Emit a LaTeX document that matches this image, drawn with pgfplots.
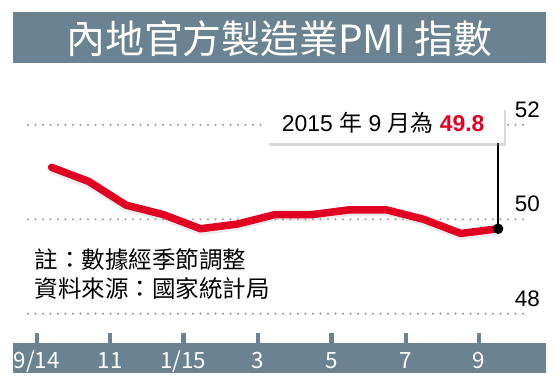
\documentclass[border=0pt]{standalone}
\usepackage{fontspec}
\setmainfont{Liberation Sans}
\newfontfamily\cjk{Noto Sans CJK TC}
\usepackage{pgfplots}
\pgfplotsset{compat=1.18}
\usetikzlibrary{shadows}
\definecolor{barblue}{RGB}{107,131,145}
\definecolor{pmired}{RGB}{226,0,34}
\definecolor{dotgray}{RGB}{160,160,160}
\begin{document}
\begin{tikzpicture}
\begin{axis}[
  at={(13bp,12.7bp)}, anchor=south west,
  scale only axis, width=532.7bp, height=361bp,
  xmin=-1.04, xmax=13.28, ymin=46.737, ymax=54.386,
  axis line style={draw=none},
  major tick length=0pt,
  /pgf/number format/assume math mode=true,
  xtick={-0.4,1.57,3.54,5.54,7.52,9.52,11.49},
  xticklabels={},
  ytick={48,50,52},
  yticklabels={48,50,52},
  yticklabel pos=right,
  yticklabel style={anchor=base east, inner sep=0pt, xshift=-5.7bp, yshift=7.3bp, font=\fontsize{22.5}{24}\selectfont},
  clip=false,
]
% bars
\fill[barblue] (axis cs:-1.04,53.318) rectangle (axis cs:13.28,54.386);
\fill[barblue] (axis cs:-1.04,46.737) rectangle (axis cs:13.28,47.373);
% tick stubs above the bottom bar
\fill[barblue] (axis cs:-0.4,47.36) ++(-2.25bp,0bp) rectangle ++(4.5bp,11.2bp);
\fill[barblue] (axis cs:1.57,47.36) ++(-2.25bp,0bp) rectangle ++(4.5bp,11.2bp);
\fill[barblue] (axis cs:3.54,47.36) ++(-2.25bp,0bp) rectangle ++(4.5bp,11.2bp);
\fill[barblue] (axis cs:5.54,47.36) ++(-2.25bp,0bp) rectangle ++(4.5bp,11.2bp);
\fill[barblue] (axis cs:7.52,47.36) ++(-2.25bp,0bp) rectangle ++(4.5bp,11.2bp);
\fill[barblue] (axis cs:9.52,47.36) ++(-2.25bp,0bp) rectangle ++(4.5bp,11.2bp);
\fill[barblue] (axis cs:11.49,47.36) ++(-2.25bp,0bp) rectangle ++(4.5bp,11.2bp);
% title
\node[anchor=base, inner sep=0pt, text=white, font=\cjk\fontsize{39}{41}\selectfont] at (axis cs:6.12,53.517) {內地官方製造業PMI 指數};
% x labels, same font handling as the title
\node[anchor=base, inner sep=0pt, text=white, font=\cjk\fontsize{22.5}{24}\selectfont] at (axis cs:-0.4,46.843) {9/14};
\node[anchor=base, inner sep=0pt, text=white, font=\cjk\fontsize{22.5}{24}\selectfont] at (axis cs:1.57,46.843) {11};
\node[anchor=base, inner sep=0pt, text=white, font=\cjk\fontsize{22.5}{24}\selectfont] at (axis cs:3.54,46.843) {1/15};
\node[anchor=base, inner sep=0pt, text=white, font=\cjk\fontsize{22.5}{24}\selectfont] at (axis cs:5.54,46.843) {3};
\node[anchor=base, inner sep=0pt, text=white, font=\cjk\fontsize{22.5}{24}\selectfont] at (axis cs:7.52,46.843) {5};
\node[anchor=base, inner sep=0pt, text=white, font=\cjk\fontsize{22.5}{24}\selectfont] at (axis cs:9.52,46.843) {7};
\node[anchor=base, inner sep=0pt, text=white, font=\cjk\fontsize{22.5}{24}\selectfont] at (axis cs:11.49,46.843) {9};
% dotted grid lines
\addplot[dotgray, line width=2.4bp, line cap=round, dash pattern=on 0bp off 7.5bp] coordinates {(-0.637,48) (12.8,48)};
\addplot[dotgray, line width=2.4bp, line cap=round, dash pattern=on 0bp off 7.5bp] coordinates {(-0.637,50) (12.8,50)};
\addplot[dotgray, line width=2.4bp, line cap=round, dash pattern=on 0bp off 7.5bp] coordinates {(-0.637,52) (12.8,52)};
% shadow of line
\addplot[gray!60, line width=8bp, line join=round, line cap=round, yshift=-2.5bp, draw opacity=0.25] coordinates {
(0,51.1) (1,50.8) (2,50.3) (3,50.1) (4,49.8) (5,49.9) (6,50.1) (7,50.1) (8,50.2) (9,50.2) (10,50.0) (11,49.7) (12,49.8)};
% PMI line
\addplot[pmired, line width=7.5bp, line join=round, line cap=round] coordinates {
(0,51.1) (1,50.8) (2,50.3) (3,50.1) (4,49.8) (5,49.9) (6,50.1) (7,50.1) (8,50.2) (9,50.2) (10,50.0) (11,49.7) (12,49.8)};
% pointer line and dot
\addplot[black, line width=1.8bp] coordinates {(12,49.8) (12,51.62)};
\addplot[only marks, mark=*, mark size=5bp, black] coordinates {(12,49.8)};
% annotation box
\fill[white, drop shadow={shadow xshift=2bp, shadow yshift=-3bp, opacity=0.3, fill=gray}] (axis cs:5.788,51.610) rectangle (axis cs:12.172,52.379);
\node[anchor=base west, inner sep=0pt, font=\fontsize{23}{25}\selectfont] at (axis cs:6.185,51.856) {2015 {\cjk 年} 9 {\cjk 月為} \textcolor{pmired}{\bfseries 49.8}};
% notes
\node[anchor=base west, inner sep=0pt, font=\cjk\fontsize{23.6}{25}\selectfont] at (axis cs:-0.46,48.955) {註：數據經季節調整};
\node[anchor=base west, inner sep=0pt, font=\cjk\fontsize{23.6}{25}\selectfont] at (axis cs:-0.46,48.345) {資料來源：國家統計局};
\end{axis}
\pgfresetboundingbox
\useasboundingbox (0,0) rectangle (558bp,386bp);
\end{tikzpicture}
\end{document}
